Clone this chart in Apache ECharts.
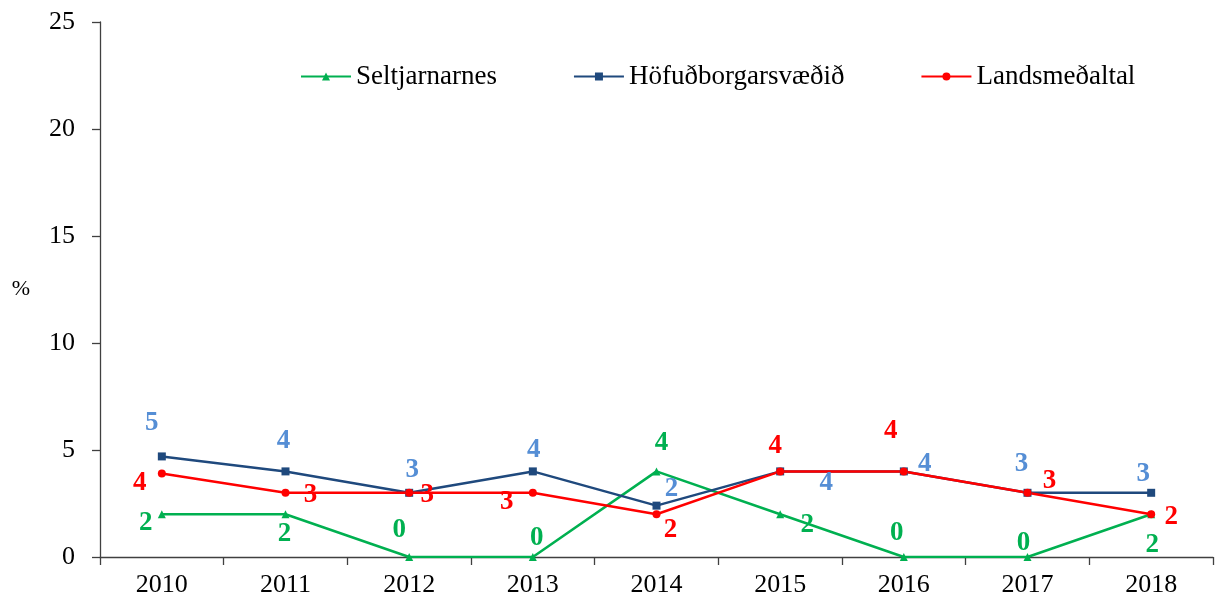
<!DOCTYPE html>
<html>
<head>
<meta charset="utf-8">
<script src="https://cdn.jsdelivr.net/npm/echarts@6/dist/echarts.min.js"></script>
<style>
  html, body { margin: 0; padding: 0; background: #fff; }
  #main { width: 1222px; height: 600px; }
</style>
</head>
<body>
<div id="main"></div>
<script>
// ár
var years = ['2010', '2011', '2012', '2013', '2014', '2015', '2016', '2017', '2018'];
// gildi í %
var seltjarnarnes = [2, 2, 0, 0, 4, 2, 0, 0, 2];
var hofudborgarsvaedid = [4.7, 4, 3, 4, 2.4, 4, 4, 3, 3];
var landsmedaltal = [3.9, 3, 3, 3, 2, 4, 4, 3, 2];
var seriesNames = ['Seltjarnarnes', 'Höfuðborgarsvæðið', 'Landsmeðaltal'];

// hliðrun merkimiða frá punkti [dx, dy]
var offGreen = [[-16, 9], [-1, 20], [-10, -27], [4, -19], [5, -28], [27, 11], [-7, -24], [-4, -14], [1, 31]];
var offBlue = [[-10, -33], [-2, -30], [3, -23], [1, -21], [15, -17], [46, 12], [21, -7], [-6, -29], [-8, -19]];
var offRed = [[-22, 9], [25, 2], [18, 2], [-26, 9], [14, 16], [-5, -25], [-13, -40], [22, -12], [20, 3]];

var font = "'Liberation Serif', 'Times New Roman', serif";

function items(vals, offs) {
  return vals.map(function (v, i) {
    return { value: v, label: { offset: offs[i] } };
  });
}

function makeSeries(name, vals, offs, lineColor, labelColor, symbol) {
  return {
    name: name,
    type: 'line',
    data: items(vals, offs),
    symbol: symbol,
    symbolSize: 8,
    lineStyle: { color: lineColor, width: 2.5 },
    itemStyle: { color: lineColor },
    label: {
      show: true,
      position: 'inside',
      color: labelColor,
      fontFamily: font,
      fontWeight: 'bold',
      fontSize: 27,
      formatter: function (p) { return Math.round(p.value); }
    },
    animation: false
  };
}

var myChart = echarts.init(document.getElementById('main'));
myChart.setOption({
  backgroundColor: '#fff',
  grid: { left: 100, right: 9, top: 22, bottom: 43 },
  legend: {
    data: seriesNames,
    left: 295,
    top: 58,
    itemWidth: 50,
    itemHeight: 10,
    itemGap: 76,
    textStyle: { fontFamily: font, fontSize: 27, color: '#000' }
  },
  xAxis: {
    type: 'category',
    data: years,
    boundaryGap: true,
    axisLine: { lineStyle: { color: '#404040', width: 1.3 } },
    axisTick: { show: true, length: 8, lineStyle: { color: '#404040', width: 1.3 } },
    axisLabel: { fontFamily: font, fontSize: 26, color: '#000', margin: 15 },
    splitLine: { show: false }
  },
  yAxis: {
    type: 'value',
    min: 0,
    max: 25,
    interval: 5,
    name: '%',
    nameLocation: 'middle',
    nameRotate: 0,
    nameGap: 70,
    nameTextStyle: { fontFamily: font, fontSize: 22, color: '#000' },
    axisLine: { show: true, lineStyle: { color: '#404040', width: 1.3 } },
    axisTick: { show: true, length: 8, lineStyle: { color: '#404040', width: 1.3 } },
    axisLabel: { fontFamily: font, fontSize: 26, color: '#000', margin: 25 },
    splitLine: { show: false }
  },
  series: [
    makeSeries(seriesNames[0], seltjarnarnes, offGreen, '#00B050', '#00B050', 'triangle'),
    makeSeries(seriesNames[1], hofudborgarsvaedid, offBlue, '#1F497D', '#558ED5', 'rect'),
    makeSeries(seriesNames[2], landsmedaltal, offRed, '#FF0000', '#FF0000', 'circle')
  ]
});
</script>
</body>
</html>
